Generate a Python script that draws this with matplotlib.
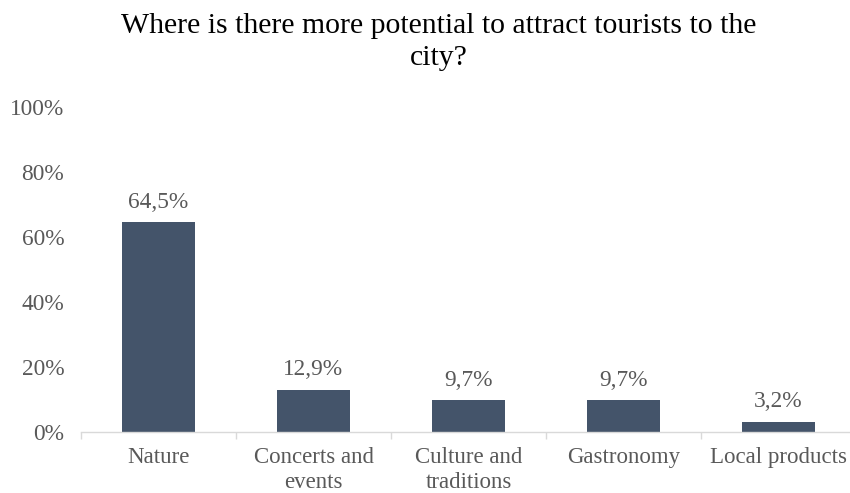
import matplotlib
matplotlib.use("Agg")
import matplotlib.pyplot as plt
from matplotlib.ticker import FixedLocator, PercentFormatter

categories = ["Nature", "Concerts and\nevents", "Culture and\ntraditions", "Gastronomy", "Local products"]
values = [64.5, 12.9, 9.7, 9.7, 3.2]
value_labels = ["64,5%", "12,9%", "9,7%", "9,7%", "3,2%"]
y_ticks = [0, 20, 40, 60, 80, 100]

plt.rcParams["font.family"] = ["Liberation Serif", "DejaVu Serif"]
text_color = "#595959"
bar_color = "#44546A"

fig = plt.figure(figsize=(8.5, 4.93), dpi=100)
ax = fig.add_axes([0.0953, 0.1237, 0.9118, 0.6593])

x = range(len(categories))
bars = ax.bar(x, values, width=0.475, color=bar_color, zorder=2)

for b, lab in zip(bars, value_labels):
    ax.annotate(lab, (b.get_x() + b.get_width() / 2, b.get_height()),
                xytext=(0, 7), textcoords="offset points",
                ha="center", va="bottom", fontsize=16.8, color=text_color)

ax.set_xlim(-0.5, len(categories) - 0.5)
ax.set_ylim(0, 100)
ax.set_yticks(y_ticks)
ax.yaxis.set_major_formatter(PercentFormatter(decimals=0))
ax.set_xticks(list(x))
ax.set_xticklabels(categories, linespacing=1.26)
ax.xaxis.set_minor_locator(FixedLocator([i - 0.5 for i in range(len(categories) + 1)]))

for s in ["top", "right", "left"]:
    ax.spines[s].set_visible(False)
ax.spines["bottom"].set_color("#D9D9D9")
ax.spines["bottom"].set_linewidth(1.0)

ax.tick_params(axis="y", length=0, labelsize=16.8, labelcolor=text_color, pad=12)
ax.tick_params(axis="x", which="major", length=0, labelsize=16.5, labelcolor=text_color, pad=11)
ax.tick_params(axis="x", which="minor", length=5, color="#D9D9D9", width=1.0)

fig.text(0.516, 0.974, "Where is there more potential to attract tourists to the\ncity?",
         ha="center", va="top", fontsize=21.4, color="#000000", linespacing=1.33)

fig.savefig("out.png", dpi=100)
